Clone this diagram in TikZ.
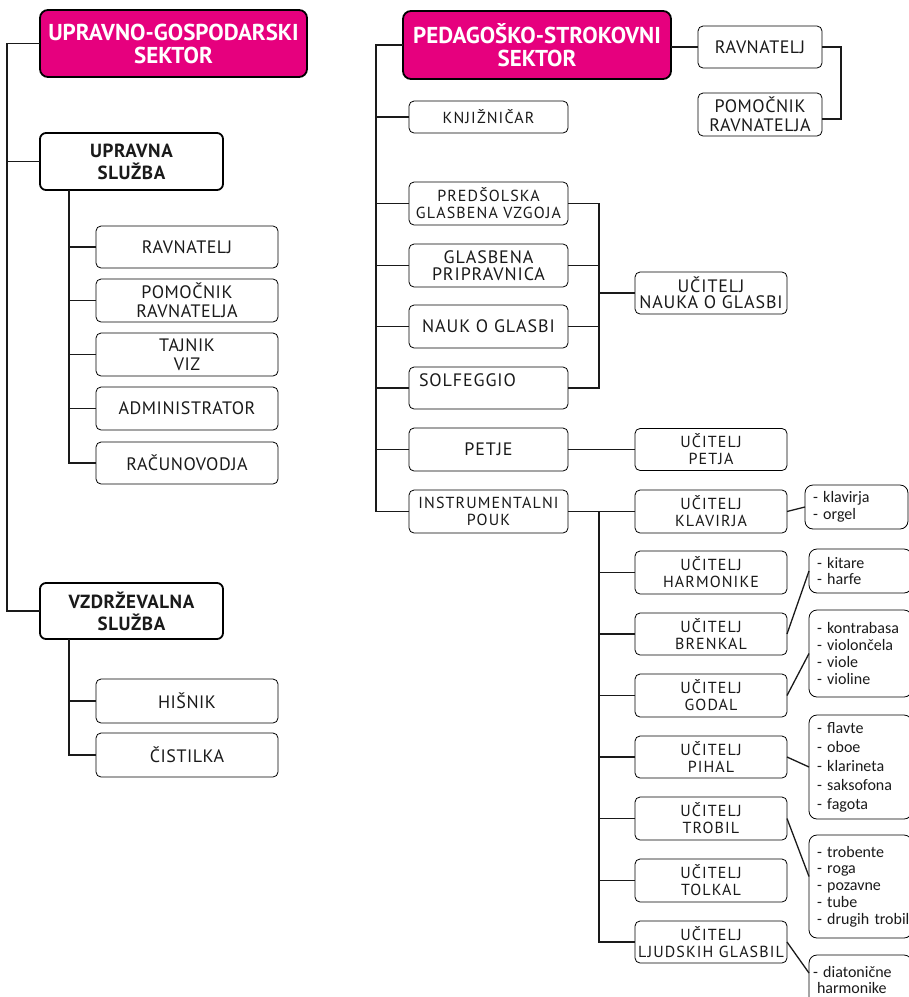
\documentclass[tikz,border=0pt]{standalone}
\usepackage{fontspec}
\setmainfont{PT Sans}
\newfontfamily\lstf{Carlito}
\newfontfamily\lsa[LetterSpace=3]{PT Sans}
\newfontfamily\lsb[LetterSpace=7]{PT Sans}
\newfontfamily\lsc[LetterSpace=5]{PT Sans}
\definecolor{mag}{HTML}{E6007E}
\definecolor{ink}{HTML}{1A1A1A}
\begin{document}
\begin{tikzpicture}[x=1pt,y=-1pt,
  every node/.style={inner sep=0pt, outer sep=0pt, text=ink},
  hdr/.style={draw=black, fill=mag, line width=1.8pt, rounded corners=8pt, text=white, align=center, font=\bfseries\fontsize{23}{23}\selectfont},
  sub/.style={draw=black, line width=1.8pt, rounded corners=6pt, align=center, font=\lsa\bfseries\fontsize{19}{22}\selectfont},
  box/.style={draw=black, line width=0.8pt, rounded corners=5pt, align=center},
  lft/.style={box, font=\lsa\fontsize{18}{18.7}\selectfont},
  big/.style={box, font=\lsc\fontsize{18}{16.5}\selectfont},
  sml/.style={box, font=\lsb\fontsize{16}{17}\selectfont},
  lst/.style={draw=black, line width=0.8pt, rounded corners=8pt, align=left, font=\lstf\fontsize{16}{16.7}\selectfont},
  con/.style={line width=1.3pt, draw=ink}]
\useasboundingbox (0,0) rectangle (909,997);
\fill[white] (0,0) rectangle (909,997);
\clip (0,0) rectangle (909,997);
% ---------- left sector ----------
\node[hdr, minimum width=267pt, minimum height=67pt] (ug) at (173.5,43.5) {UPRAVNO-GOSPODARSKI\\SEKTOR};
\node[sub, minimum width=183pt, minimum height=57pt] (us) at (131.5,161.5) {UPRAVNA\\SLUŽBA};
\node[lft, minimum width=182pt, minimum height=42pt] (lrav) at (187,247) {RAVNATELJ};
\node[lft, minimum width=182pt, minimum height=43pt] (lpom) at (187,300.5) {POMOČNIK\\RAVNATELJA};
\node[lft, minimum width=182pt, minimum height=43pt] (taj) at (187,354.5) {TAJNIK\\VIZ};
\node[lft, minimum width=182pt, minimum height=43pt] (adm) at (187,408.5) {ADMINISTRATOR};
\node[lft, minimum width=182pt, minimum height=42pt] (rac) at (187,463) {RAČUNOVODJA};
\node[sub, minimum width=183pt, minimum height=56pt] (vz) at (131.5,611) {VZDRŽEVALNA\\SLUŽBA};
\node[lft, minimum width=182pt, minimum height=44pt] (his) at (187,701) {HIŠNIK};
\node[lft, minimum width=182pt, minimum height=44pt] (cis) at (187,755) {ČISTILKA};
\coordinate (ta) at (7,0);
\coordinate (tb) at (69,0);
\draw[con] (ug.west) -| (ta |- vz.west) -- (vz.west);
\draw[con] (ta |- us.west) -- (us.west);
\draw[con] (tb |- us.south) |- (rac.west);
\foreach \n in {lrav,lpom,taj,adm} \draw[con] (tb |- \n.west) -- (\n.west);
\draw[con] (tb |- vz.south) |- (cis.west);
\draw[con] (tb |- his.west) -- (his.west);
% ---------- right sector ----------
\node[hdr, minimum width=268pt, minimum height=68pt] (ps) at (537,45) {PEDAGOŠKO-STROKOVNI\\SEKTOR};
\node[lft, minimum width=124pt, minimum height=42pt] (rrav) at (760,47) {RAVNATELJ};
\node[lft, minimum width=124pt, minimum height=43pt] (rpom) at (760,114.5) {POMOČNIK\\RAVNATELJA};
\draw[con] (ps.east |- rrav.west) -- (rrav.west);
\coordinate (tc) at (841,0);
\coordinate (rp) at ([yshift=-4.5pt]rpom.east);
\draw[con] (rrav.east) -| (tc |- rp) -- (rp);
\node[sml, minimum width=159pt, minimum height=32pt] (knj) at (488.5,117) {KNJIŽNIČAR};
\node[sml, minimum width=159pt, minimum height=43pt] (pgv) at (488.5,203.5) {PREDŠOLSKA\\GLASBENA VZGOJA};
\node[big, minimum width=159pt, minimum height=43pt] (gp) at (488.5,265.5) {GLASBENA\\PRIPRAVNICA};
\node[big, minimum width=159pt, minimum height=43pt] (nog) at (488.5,326.5) {NAUK O GLASBI};
\node[big, minimum width=159pt, minimum height=42pt, align=left, text width=139pt] (sol) at (488.5,388) {SOLFEGGIO\\\mbox{}};
\node[big, minimum width=159pt, minimum height=43pt] (pet) at (488.5,449.5) {PETJE};
\node[sml, minimum width=159pt, minimum height=43pt] (ins) at (488.5,511.5) {INSTRUMENTALNI\\POUK};
\coordinate (td) at (376,0);
\draw[con] (ps.west) -| (td |- ins.west) -- (ins.west);
\foreach \n in {knj,pgv,gp,nog,sol,pet} \draw[con] (td |- \n.west) -- (\n.west);
\coordinate (te) at (599,0);
\node[big, minimum width=152pt, minimum height=42pt] (unog) at (711,293) {UČITELJ\\NAUKA O GLASBI};
\draw[con] (pgv.east) -| (te |- sol.east) -- (sol.east);
\foreach \n in {gp,nog} \draw[con] (\n.east) -- (te |- \n.east);
\draw[con] (te |- unog.west) -- (unog.west);
\node[sml, minimum width=152pt, minimum height=42pt] (upet) at (711,449.5) {UČITELJ\\PETJA};
\draw[con] (pet.east) -- (upet.west);
% instrument teachers
\node[sml, minimum width=152pt, minimum height=43pt] (ukl) at (711,511.5) {UČITELJ\\KLAVIRJA};
\node[sml, minimum width=152pt, minimum height=43pt] (uha) at (711,572.5) {UČITELJ\\HARMONIKE};
\node[sml, minimum width=152pt, minimum height=42pt] (ubr) at (711,634) {UČITELJ\\BRENKAL};
\node[sml, minimum width=152pt, minimum height=43pt] (ugo) at (711,695.5) {UČITELJ\\GODAL};
\node[sml, minimum width=152pt, minimum height=42pt] (upi) at (711,757) {UČITELJ\\PIHAL};
\node[sml, minimum width=152pt, minimum height=43pt] (utr) at (711,818.5) {UČITELJ\\TROBIL};
\node[sml, minimum width=152pt, minimum height=43pt] (uto) at (711,880.5) {UČITELJ\\TOLKAL};
\node[sml, minimum width=152pt, minimum height=42pt] (ulj) at (711,942) {UČITELJ\\LJUDSKIH GLASBIL};
\draw[con] (ins.east) -- (ukl.west);
\draw[con] (te |- ins.east) |- (ulj.west);
\foreach \n in {uha,ubr,ugo,upi,utr,uto} \draw[con] (te |- \n.west) -- (\n.west);
% lists
\node[lst, minimum width=103pt, minimum height=44pt, text width=87pt] (lkl) at (856.5,507) {\mbox{- klavirja}\\\mbox{- orgel}};
\node[lst, minimum width=103pt, minimum height=44pt, text width=87pt] (lki) at (860.5,571) {\mbox{- kitare}\\\mbox{- harfe}};
\node[lst, minimum width=103pt, minimum height=87pt, text width=87pt] (lko) at (860.5,653.5) {\mbox{- kontrabasa}\\\mbox{- violončela}\\\mbox{- viole}\\\mbox{- violine}};
\node[lst, minimum width=103pt, minimum height=104pt, text width=87pt, font=\lstf\fontsize{16}{19}\selectfont] (lfl) at (860.5,767) {\mbox{- flavte}\\\mbox{- oboe}\\\mbox{- klarineta}\\\mbox{- saksofona}\\\mbox{- fagota}};
\node[lst, minimum width=103pt, minimum height=103pt, text width=87pt] (ltr) at (860.5,886.5) {\mbox{- trobente}\\\mbox{- roga}\\\mbox{- pozavne}\\\mbox{- tube}\\\mbox{- drugih trobil}};
\node[lst, minimum width=103pt, minimum height=50pt, text width=95pt] (ldi) at (860.5,980) {\mbox{- diatonične}\\\hspace*{4pt}\mbox{harmonike}};
\draw[con] (ukl.east) -- (lkl.west);
\draw[con] (ubr.east) -- (lki.west);
\draw[con] (ugo.east) -- (lko.west);
\draw[con] (upi.east) -- (lfl.west);
\draw[con] (utr.east) -- ([yshift=10pt]ltr.west);
\draw[con] (ulj.east) -- ([yshift=7pt]ldi.west);
\end{tikzpicture}
\end{document}
